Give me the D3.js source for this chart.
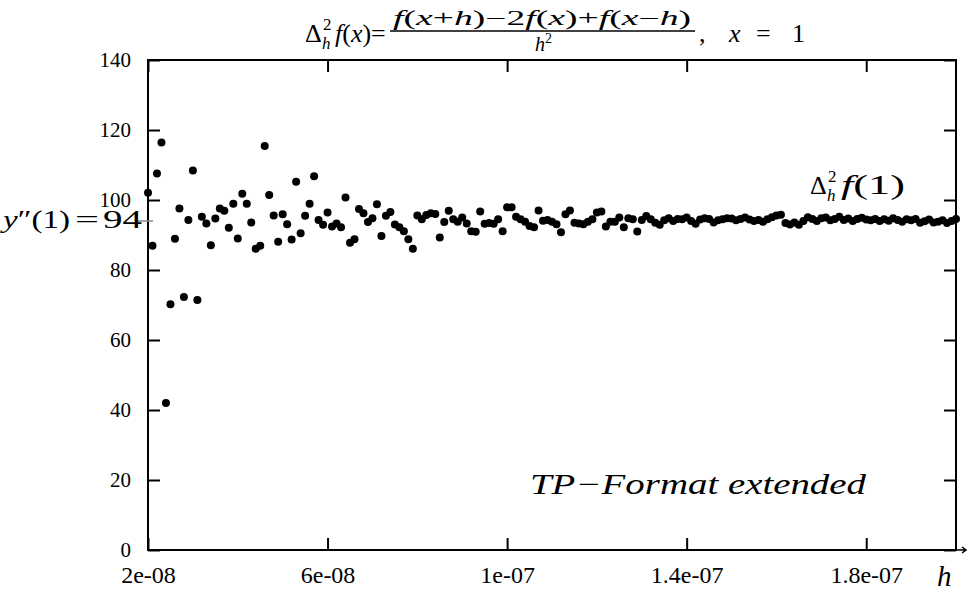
<!DOCTYPE html>
<html>
<head>
<meta charset="utf-8">
<script src="https://cdn.jsdelivr.net/npm/d3@7"></script>
<style>
  svg text, svg tspan { font-family: "Liberation Serif", "Times New Roman", serif !important; }
</style>
</head>
<body style="margin:0;background:#fff">
<svg width="968" height="592" font-family="Liberation Serif" style="font-family:'Liberation Serif'"></svg>
<script>
const width = 968, height = 592;
const margin = { left: 148, right: 12, top: 60, bottom: 42 };

// step h in units of 1e-9
const hNano = [
  20, 21, 22, 23, 24, 25, 26, 27, 28, 29, 30, 31, 32, 33, 34, 35, 36, 37, 38, 39,
  40, 41, 42, 43, 44, 45, 46, 47, 48, 49, 50, 51, 52, 53, 54, 55, 56, 57, 58, 59,
  60, 61, 62, 63, 64, 65, 66, 67, 68, 69, 70, 71, 72, 73, 74, 75, 76, 77, 78, 79,
  80, 81, 82, 83, 84, 85, 86, 87, 88, 89, 90, 91, 92, 93, 94, 95, 96, 97, 98, 99,
  100, 101, 102, 103, 104, 105, 106, 107, 108, 109, 110, 111, 112, 113, 114, 115, 116, 117, 118, 119,
  120, 121, 122, 123, 124, 125, 126, 127, 128, 129, 130, 131, 132, 133, 134, 135, 136, 137, 138, 139,
  140, 141, 142, 143, 144, 145, 146, 147, 148, 149, 150, 151, 152, 153, 154, 155, 156, 157, 158, 159,
  160, 161, 162, 163, 164, 165, 166, 167, 168, 169, 170, 171, 172, 173, 174, 175, 176, 177, 178, 179,
  180, 181, 182, 183, 184, 185, 186, 187, 188, 189, 190, 191, 192, 193, 194, 195, 196, 197, 198, 199,
  200
];

// second difference quotient at x = 1
const secondDiff = [
  102.1, 86.9, 107.6, 116.4, 42.0, 70.2, 88.9, 97.6, 72.3, 94.3,
  108.4, 71.4, 95.2, 93.3, 87.1, 94.7, 97.6, 96.9, 92.1, 98.9,
  89.0, 101.8, 98.9, 93.6, 86.1, 86.9, 115.4, 101.4, 95.6, 88.1,
  95.9, 93.1, 88.7, 105.2, 90.5, 95.5, 98.9, 106.8, 94.3, 92.9,
  96.4, 92.4, 93.3, 92.2, 100.7, 87.8, 88.8, 97.4, 96.2, 93.7,
  94.8, 98.8, 89.7, 95.5, 96.6, 93.0, 92.2, 91.1, 88.8, 86.1,
  95.6, 94.5, 95.7, 96.2, 96.0, 89.3, 93.7, 96.9, 94.5, 93.8,
  95.0, 93.3, 91.1, 90.9, 96.7, 93.2, 93.4, 93.2, 94.5, 91.1,
  97.9, 97.9, 95.2, 94.5, 93.8, 92.6, 92.2, 97.0, 94.1, 94.3,
  93.8, 93.1, 90.8, 95.9, 97.0, 93.5, 93.3, 93.1, 93.8, 94.5,
  96.4, 96.7, 92.4, 93.8, 93.8, 95.0, 92.2, 94.8, 94.5, 91.0,
  94.3, 95.4, 94.5, 93.5, 92.9, 94.2, 94.8, 94.0, 94.6, 94.5,
  95.0, 94.0, 93.2, 94.4, 94.8, 94.6, 93.6, 94.2, 94.5, 94.8,
  94.7, 94.2, 94.6, 95.0, 94.4, 94.0, 94.3, 93.8, 94.5, 95.1,
  95.6, 95.8, 93.4, 93.0, 93.6, 92.9, 94.0, 95.1, 94.6, 94.0,
  94.8, 95.0, 94.2, 94.6, 95.2, 94.3, 94.7, 94.0, 94.6, 94.9,
  94.4, 94.2, 94.6, 94.0, 94.5, 94.1, 94.8, 94.3, 93.8, 94.5,
  94.2, 94.6, 93.5, 93.9, 94.4, 93.6, 93.8, 94.2, 93.4, 94.0,
  94.6
];

const yTicks = [0, 20, 40, 60, 80, 100, 120, 140];
const xTicks = [2e-8, 6e-8, 1e-7, 1.4e-7, 1.8e-7];
const xTickLabels = ["2e-08", "6e-08", "1e-07", "1.4e-07", "1.8e-07"];
const exactValue = 94;

const svg = d3.select("svg").attr("viewBox", [0, 0, width, height]);

const x_scale = d3.scaleLinear().domain([2e-8, 2e-7]).range([margin.left, width - margin.right]);
const y_scale = d3.scaleLinear().domain([0, 140]).range([height - margin.bottom, margin.top]);

const points = hNano.map((h, i) => ({ h: h * 1e-9, v: secondDiff[i] }));

const styleAxis = (g, size) => {
  g.attr("font-family", null).attr("font-size", null);
  g.select(".domain").remove();
  g.selectAll(".tick line").attr("stroke", "#000").attr("stroke-width", 2);
  g.selectAll(".tick text")
    .style("font-size", size + "px")
    .attr("fill", "#000");
};

// text helper
const label = (parent, x, y, size, str, italic) =>
  parent.append("text")
    .attr("x", x)
    .attr("y", y)
    .style("font-size", size + "px")
    .style("font-style", italic ? "italic" : "normal")
    .text(str);

// Axes (ticks pointing inward, mirrored on top and right)
svg.append("g")
  .attr("transform", `translate(${margin.left},0)`)
  .call(d3.axisLeft(y_scale).tickValues(yTicks).tickSize(-12).tickPadding(17))
  .call(styleAxis, 21);

svg.append("g")
  .attr("transform", `translate(${width - margin.right},0)`)
  .call(d3.axisRight(y_scale).tickValues(yTicks).tickSize(-12).tickFormat(""))
  .call(styleAxis, 21);

svg.append("g")
  .attr("transform", `translate(0,${height - margin.bottom})`)
  .call(d3.axisBottom(x_scale).tickValues(xTicks).tickSize(-12).tickPadding(16)
    .tickFormat((d, i) => xTickLabels[i]))
  .call(styleAxis, 24);

svg.append("g")
  .attr("transform", `translate(0,${margin.top})`)
  .call(d3.axisTop(x_scale).tickValues(xTicks).tickSize(-12).tickFormat(""))
  .call(styleAxis, 21);

// Frame
svg.append("rect")
  .attr("x", margin.left)
  .attr("y", margin.top)
  .attr("width", width - margin.left - margin.right)
  .attr("height", height - margin.top - margin.bottom)
  .attr("fill", "none")
  .attr("stroke", "#000")
  .attr("stroke-width", 2);

// small arrow at end of h axis
const axisY = y_scale(0);
svg.append("path")
  .attr("d", `M${width - margin.right},${axisY}H${width - 2}M${width - 6},${axisY - 3}L${width - 2},${axisY}L${width - 6},${axisY + 3}`)
  .attr("fill", "none")
  .attr("stroke", "#000")
  .attr("stroke-width", 1.5);

// Exact value marker
svg.append("line")
  .attr("x1", margin.left - 10)
  .attr("x2", margin.left + 5)
  .attr("y1", y_scale(exactValue))
  .attr("y2", y_scale(exactValue))
  .attr("stroke", "#888")
  .attr("stroke-width", 1.5);

const ey = y_scale(exactValue) + 7;
const yl = label(svg, 3, ey, 26, "", false)
  .attr("textLength", 67).attr("lengthAdjust", "spacingAndGlyphs");
yl.append("tspan").style("font-style", "italic").text("y");
yl.append("tspan").text("″(1)");
label(svg, 75, ey, 26, "=", false)
  .attr("textLength", 24).attr("lengthAdjust", "spacingAndGlyphs");
label(svg, 103, ey, 26, String(exactValue), false)
  .attr("textLength", 39).attr("lengthAdjust", "spacingAndGlyphs");

// Points
svg.append("g")
  .selectAll("circle")
  .data(points)
  .join("circle")
  .attr("cx", (d) => x_scale(d.h))
  .attr("cy", (d) => y_scale(d.v))
  .attr("r", 4)
  .attr("fill", "#000");

// x label
label(svg, 937, 586, 29, "h", true);

// Title
const title = svg.append("g");
label(title, 305, 42, 26, "Δ", false);
label(title, 323, 30, 17, "2", false);
label(title, 322, 49, 17, "h", true);
const tf = label(title, 335, 42, 26, "", false);
tf.append("tspan").style("font-style", "italic").text("f");
tf.append("tspan").text("(");
tf.append("tspan").style("font-style", "italic").text("x");
tf.append("tspan").text(")");
label(title, 371, 42, 26, "=", false);

const num = label(title, 393, 25, 20, "", false)
  .attr("textLength", 298).attr("lengthAdjust", "spacingAndGlyphs");
[["f", 1], ["(", 0], ["x", 1], ["+", 0], ["h", 1], [")−2", 0], ["f", 1], ["(", 0], ["x", 1], [")+", 0],
 ["f", 1], ["(", 0], ["x", 1], ["−", 0], ["h", 1], [")", 0]].forEach(([t, it]) => {
  num.append("tspan").style("font-style", it ? "italic" : "normal").text(t);
});
title.append("line").attr("x1", 390).attr("x2", 695).attr("y1", 31).attr("y2", 31)
  .attr("stroke", "#000").attr("stroke-width", 1.5);
const den = label(title, 535, 51, 20, "", false);
den.append("tspan").style("font-style", "italic").text("h");
den.append("tspan").attr("dy", -8).style("font-size", "14px").text("2");

label(title, 699, 42, 26, ",", false);
label(title, 729, 42, 26, "x", true);
label(title, 756, 42, 26, "=", false);
label(title, 792, 42, 26, "1", false);

// Series label
const lab = svg.append("g");
label(lab, 810, 194, 26, "Δ", false);
label(lab, 828, 182, 17, "2", false);
label(lab, 827, 201, 17, "h", true);
const lf = label(lab, 841, 194, 28, "", false)
  .attr("textLength", 64).attr("lengthAdjust", "spacingAndGlyphs");
lf.append("tspan").style("font-style", "italic").text("f");
lf.append("tspan").text("(1)");

// Format note
label(svg, 530, 494, 29, "TP−Format  extended", true)
  .attr("textLength", 336)
  .attr("lengthAdjust", "spacingAndGlyphs");

svg.selectAll("text").style("font-family", "'Liberation Serif'");
</script>
</body>
</html>
